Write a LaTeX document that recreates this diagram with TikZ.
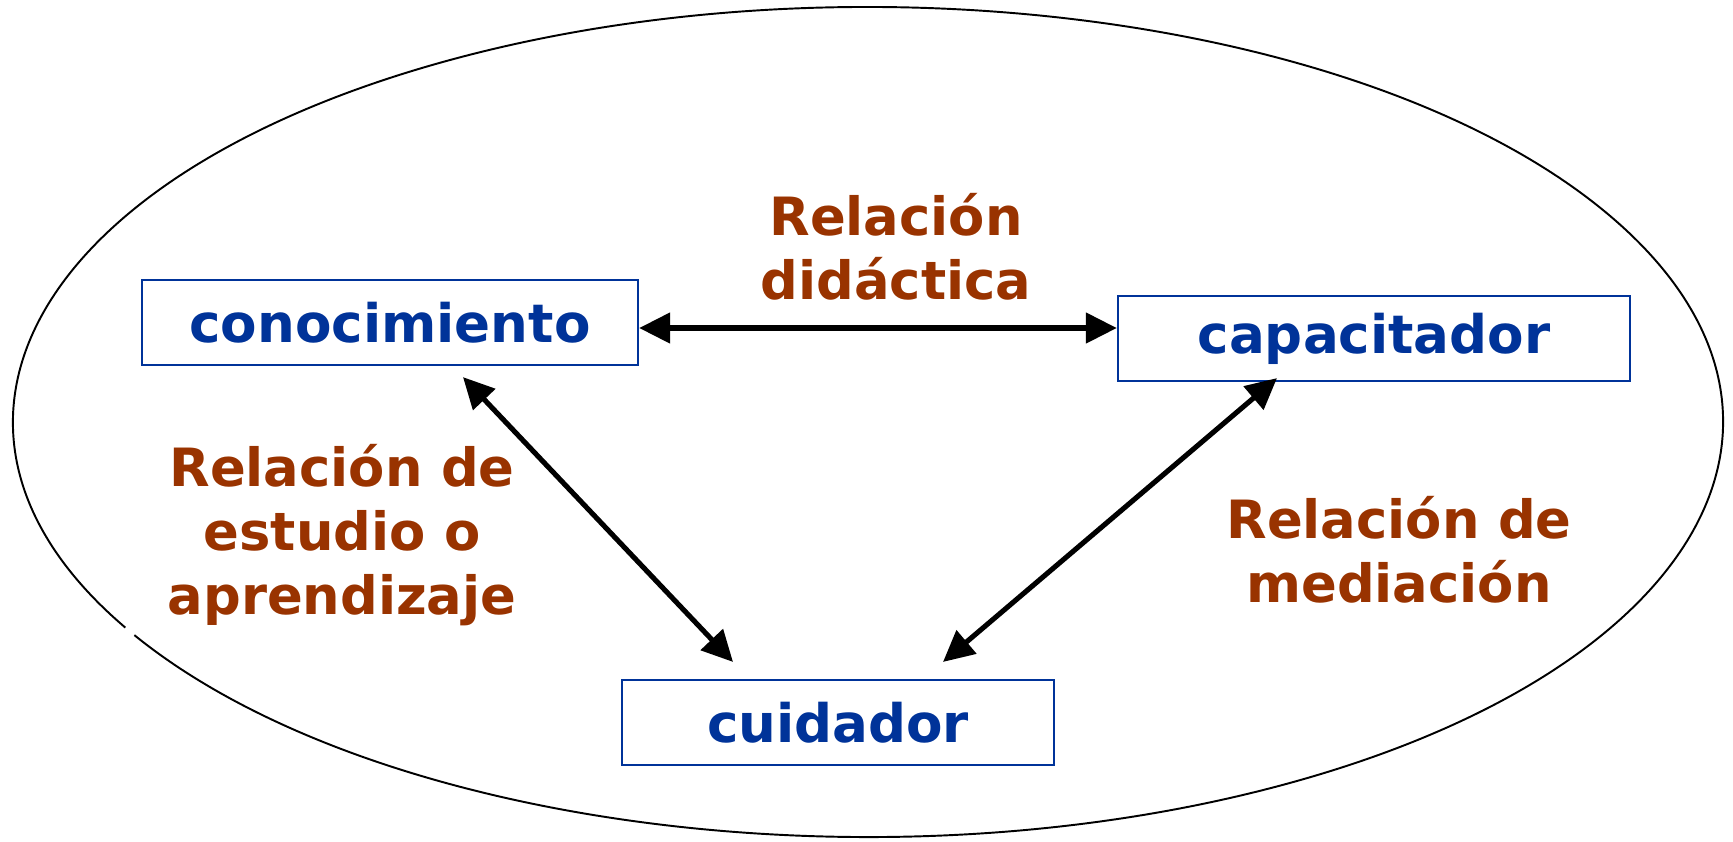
\documentclass[tikz,border=0pt]{standalone}
\usepackage{fontspec}
\setmainfont{DejaVu Sans}
\usepackage{xcolor}
\usetikzlibrary{arrows.meta}

\definecolor{actorblue}{RGB}{0,51,153}
\definecolor{relbrown}{RGB}{153,51,0}

\begin{document}
\begin{tikzpicture}[x=0.01cm, y=-0.01cm, >={Triangle[length=8.8pt,width=8.5pt]},
		actor/.style={draw=actorblue, line width=0.6pt, text=actorblue, minimum height=0.85cm, inner sep=0pt, font=\fontsize{15.1pt}{18pt}\selectfont\bfseries},
		relation/.style={text=relbrown, align=center, font=\fontsize{15pt}{18.2pt}\selectfont\bfseries},
		link/.style={<->, line width=1.45pt}]
		\useasboundingbox (0,0) rectangle (1733,841);

		% outer ellipse, with its small break at lower left
		\draw[line width=0.55pt] (868,422) ++(150.3:855 and 415) arc[start angle=150.3, end angle=509.1, x radius=855, y radius=415];

		\node[actor, minimum width=4.96cm] (conocimiento) at (390,322.5) {conocimiento};
		\node[actor, minimum width=5.12cm] (capacitador) at (1374,338.5) {capacitador};
		\node[actor, minimum width=4.32cm] (cuidador) at (838,722.5) {cuidador};

		\node[relation] (didactica) at (896,247) {Relación\\didáctica};
		\node[relation] (estudio) at (342,535) {Relación de\\estudio o\\aprendizaje};
		\node[relation] (mediacion) at (1399,550) {Relación de\\mediación};

		\draw[link] ([shift={(0,5.5)}]conocimiento.east) -- ([shift={(0,-10.5)}]capacitador.west);
		\draw[link] ([shift={(73,11)}]conocimiento.south) -- ([shift={(-105,-17)}]cuidador.north);
		\draw[link] ([shift={(-97,-4)}]capacitador.south) -- ([shift={(105,-17)}]cuidador.north);
	\end{tikzpicture}
\end{document}
